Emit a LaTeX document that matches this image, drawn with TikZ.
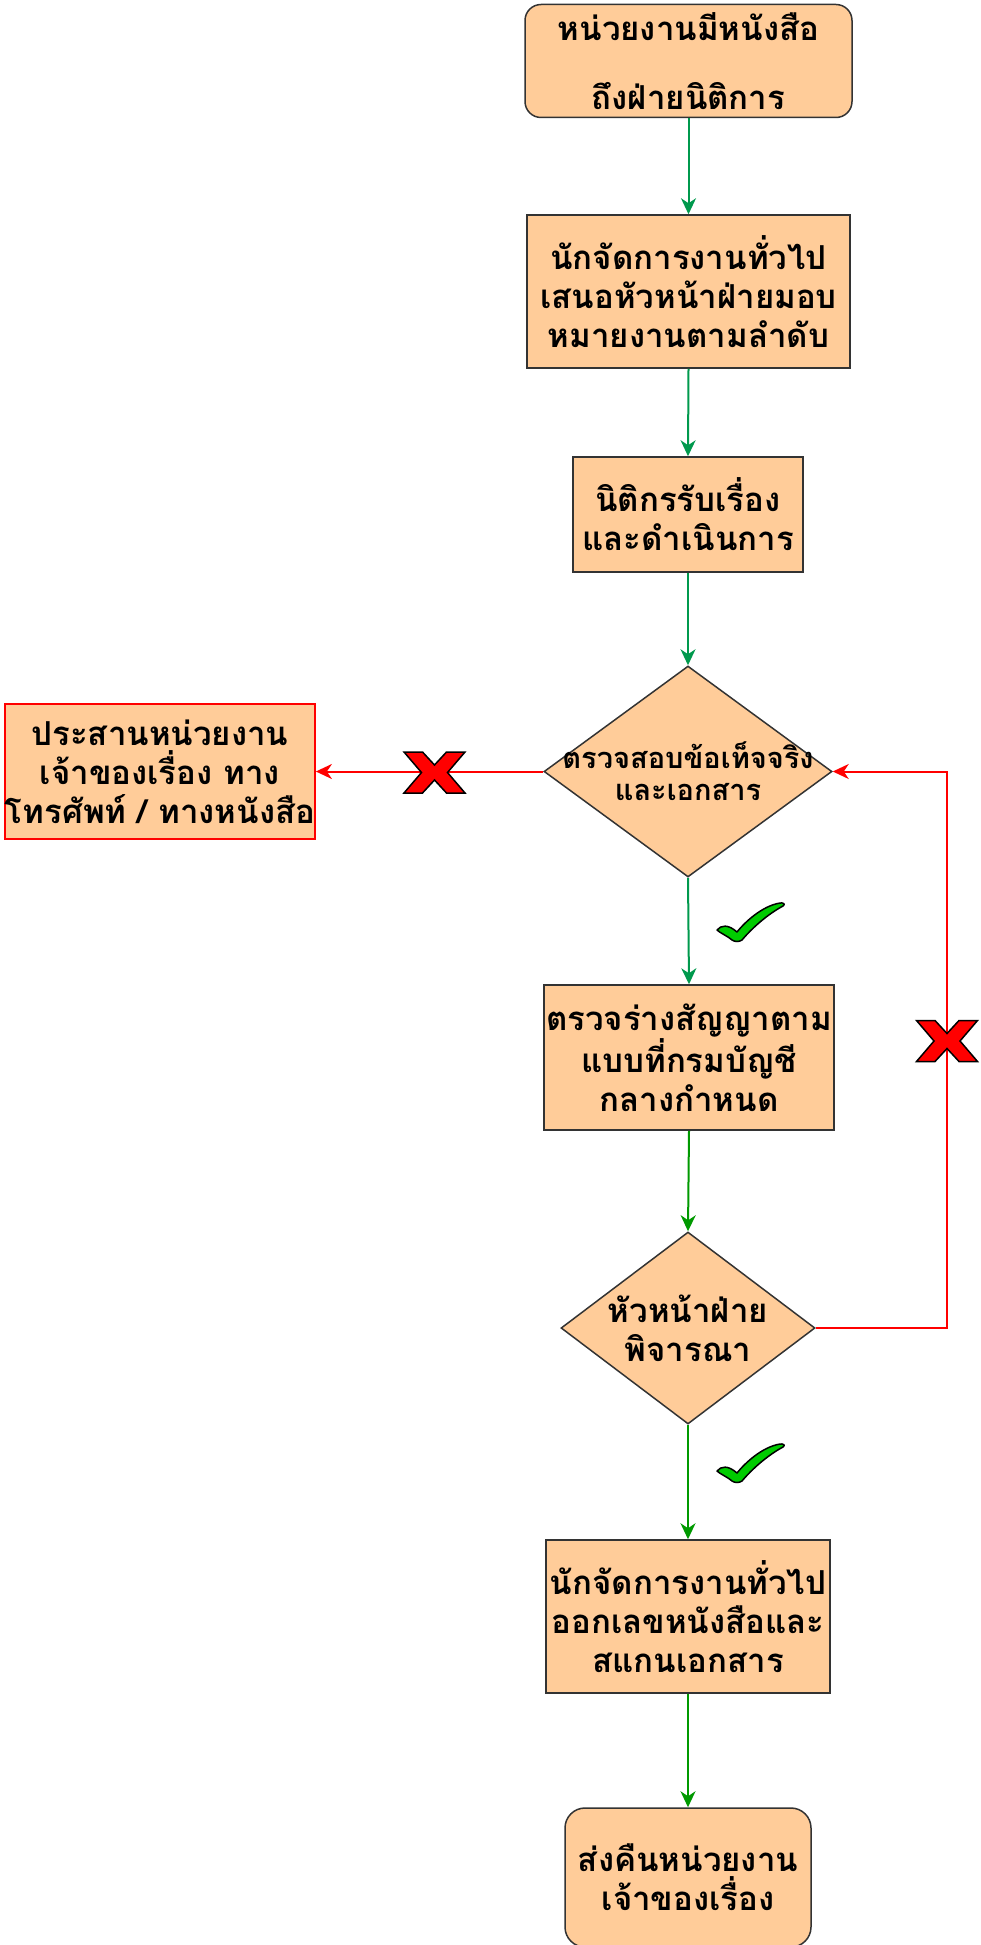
\documentclass[tikz,border=0pt]{standalone}
\usepackage{fontspec}
\setmainfont[Script=Thai]{Loma}
\usepackage{tikz}
\usetikzlibrary{shapes.geometric, arrows.meta}

\definecolor{boxfill}{HTML}{FFCC99}
\definecolor{boxline}{HTML}{333333}
\definecolor{flowteal}{HTML}{00994D}
\definecolor{flowgreen}{HTML}{009900}
\definecolor{checkgreen}{HTML}{00CC00}

\begin{document}
\begin{tikzpicture}[x=1pt, y=-1pt,
    every node/.style={font=\bfseries\fontsize{33}{39}\selectfont, align=center},
    procbox/.style={draw=boxline, line width=1.5pt, fill=boxfill, inner sep=0pt},
    endbox/.style={procbox, rounded corners=16pt},
    decision/.style={diamond, draw=boxline, line width=1.5pt, fill=boxfill, inner sep=0pt},
    flow/.style={-{Stealth[length=16pt, width=15pt, inset=5pt]}, line width=2pt},
    nope/.style={flow, draw=red},
    checkmark/.pic={
        \draw[fill=checkgreen, line width=1.5pt, line join=round]
            (-33,10) .. controls (-29,5) and (-22,4) .. (-13,12)
            .. controls (-5,2) and (12,-14) .. (30,-17)
            .. controls (33,-17.5) and (36,-16) .. (33,-14)
            .. controls (18,-6) and (2,8) .. (-8,20)
            .. controls (-11,22) and (-15,22) .. (-18,20)
            .. controls (-24,15) and (-30,13) .. (-33,10) -- cycle;
    },
    crossmark/.pic={
        \draw[fill=red, line width=1.5pt, line join=miter]
            (-30.5,-20.5) -- (-12,-20.5) -- (0,-7.5) -- (12,-20.5) -- (30.5,-20.5)
            -- (13,0) -- (30.5,20.5) -- (12,20.5) -- (0,7.5) -- (-12,20.5)
            -- (-30.5,20.5) -- (-13,0) -- cycle;
    }]
    \useasboundingbox (0,0) rectangle (981,1945);
    \clip (0,0) rectangle (981,1945);

    % main column
    \node [endbox, minimum width=327pt, minimum height=113pt] (request) at (688.5,61) {หน่วยงานมีหนังสือ\\[30pt]ถึงฝ่ายนิติการ};
    \node [procbox, minimum width=323pt, minimum height=153pt] (assign) at (688.5,291.5) {นักจัดการงานทั่วไป\\เสนอหัวหน้าฝ่ายมอบ\\หมายงานตามลำดับ};
    \node [procbox, minimum width=230pt, minimum height=115pt] (accept) at (688,514.5) {นิติกรรับเรื่อง\\และดำเนินการ};
    \node [decision, minimum width=288pt, minimum height=211pt,
        label={[font=\bfseries\fontsize{29}{32}\selectfont]center:{ตรวจสอบข้อเท็จจริง\\และเอกสาร}}] (facts) at (688,771.5) {};
    \node [procbox, draw=red, minimum width=308pt, minimum height=135pt] (contact) at (160,771.5) {ประสานหน่วยงาน\\เจ้าของเรื่อง ทาง\\โทรศัพท์ / ทางหนังสือ};
    \node [procbox, minimum width=290pt, minimum height=145pt] (draft) at (689,1057.5) {ตรวจร่างสัญญาตาม\\แบบที่กรมบัญชี\\กลางกำหนด};
    \node [decision, minimum width=254pt, minimum height=192pt,
        label={center:{หัวหน้าฝ่าย\\พิจารณา}}] (review) at (688,1328) {};
    \node [procbox, minimum width=284pt, minimum height=153pt] (issue) at (688,1616.5) {นักจัดการงานทั่วไป\\ออกเลขหนังสือและ\\สแกนเอกสาร};
    \node [endbox, rounded corners=20pt, minimum width=246pt, minimum height=139pt] (return) at (688,1877.5) {ส่งคืนหน่วยงาน\\เจ้าของเรื่อง};

    % connectors
    \draw [flow, flowteal] (request.south) -- (assign.north);
    \draw [flow, flowteal] (assign.south) -- (accept.north);
    \draw [flow, flowteal] (accept.south) -- (facts.north);
    \draw [flow, flowteal] (facts.south) -- (draft.north);
    \draw [flow, flowgreen] (draft.south) -- (review.north);
    \draw [flow, flowgreen] (review.south) -- (issue.north);
    \draw [flow, flowgreen] (issue.south) -- (return.north);

    \coordinate (loop) at (947,1328);
    \draw [nope] (facts.west) -- (contact.east);
    \draw [nope] (review.east) -- (loop) |- (facts.east);

    % marks
    \pic at (434.5,772.5) {crossmark};
    \pic at (947,1041) {crossmark};
    \pic at (750,920) {checkmark};
    \pic at (750,1461) {checkmark};
\end{tikzpicture}
\end{document}
